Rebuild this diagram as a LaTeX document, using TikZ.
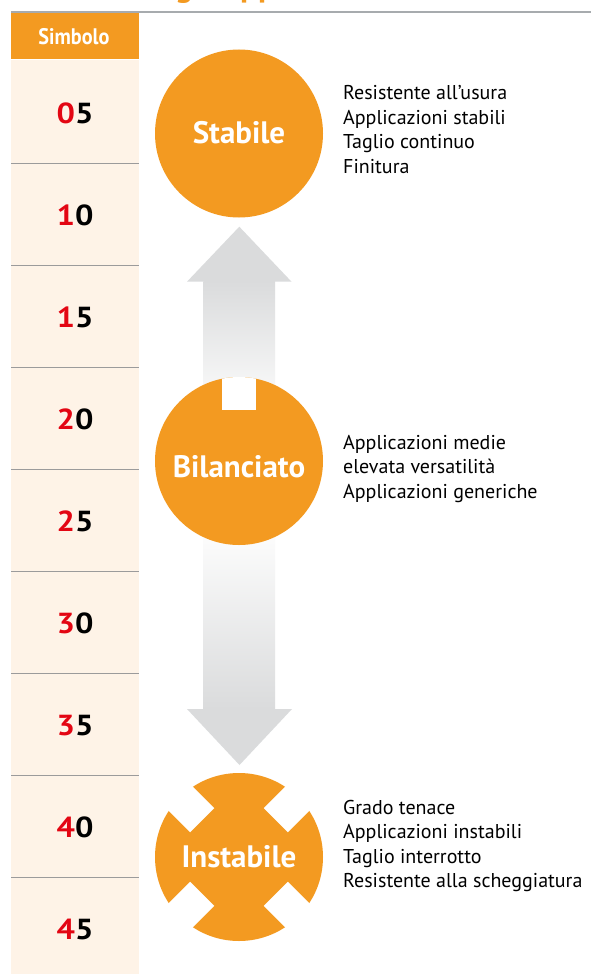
\documentclass[tikz,border=0pt]{standalone}
\usepackage{fontspec}
\setmainfont{PT Sans}
\definecolor{orng}{HTML}{F39A21}
\definecolor{cream}{HTML}{FEF3E7}
\definecolor{rednum}{HTML}{E30613}
\definecolor{arrowgray}{HTML}{DADBDC}
\definecolor{rowrule}{HTML}{9B9B9B}
\definecolor{topline}{HTML}{A7ABAE}
\tikzset{
  grade/.style={circle, fill=orng, minimum size=168pt, inner sep=0pt},
  gradelabel/.style={anchor=base, text=white, font=\bfseries\fontsize{31}{31}\selectfont, inner sep=0pt},
  numlabel/.style={anchor=base, font=\bfseries\fontsize{29}{29}\selectfont, inner sep=0pt},
  desc/.style={anchor=base west, font=\fontsize{20}{20}\selectfont, inner sep=0pt},
  titlefrag/.style={anchor=base west, text=orng, font=\bfseries\fontsize{33}{33}\selectfont, inner sep=0pt}
}
\begin{document}
\begin{tikzpicture}[x=1pt,y=-1pt]
\useasboundingbox (0,0) rectangle (591,974);
\fill[white] (0,0) rectangle (591,974);
% cut-off title
\begin{scope}
  \clip (0,0) rectangle (591,3.5);
  \node[titlefrag] (tg) at (175,-3.5) {g};
  \node[titlefrag] (tpp) at (240,-3.5) {pp};
\end{scope}
\draw[topline, line width=1.5pt] (11,12) -- (591,12);
% left column
\fill[cream] (11,60) rectangle (139,974);
\fill[orng] (11,12.75) rectangle (139,59.5);
\node[text=white, font=\bfseries\fontsize{22.5}{22.5}\selectfont, anchor=base, inner sep=0pt] (head) at (74,44.3) {\scalebox{0.9}[1]{Simbolo}};
\foreach \k in {1,...,8} {
  \draw[rowrule, line width=1pt] (11,{61+102*\k}) -- (139,{61+102*\k});
}
\foreach \k/\a/\b in {0/0/5,1/1/0,2/1/5,3/2/0,4/2/5,5/3/0,6/3/5,7/4/0,8/4/5} {
  \node[numlabel] (num\k) at (75,{123.3+102*\k}) {\scalebox{1.12}[1]{\textcolor{rednum}{\a}\b}};
}
% up arrow
\shade[top color=arrowgray, bottom color=white] (203.3,281) rectangle (275,420);
\fill[arrowgray] (239.3,226.7) -- (291.5,281.7) -- (187,281.7) -- cycle;
% down arrow
\shade[top color=white, bottom color=arrowgray] (203.3,520) rectangle (275,709.5);
\fill[arrowgray] (187,709) -- (292,709) -- (239.5,765) -- cycle;
% circles
\node[grade] (stab) at (239,133.5) {};
\node[grade] (bil) at (239,461) {};
\begin{scope}
  \clip (239,461) circle (84);
  \fill[white] (222,370) rectangle (256,410);
\end{scope}
\node[grade] (inst) at (239,857) {};
\foreach \ang in {45,135,225,315} {
  \begin{scope}[shift={(239,857)}, rotate=\ang]
    \fill[white] (-17,52) rectangle (17,100);
  \end{scope}
}
\node[gradelabel] (lstab) at (239,143.5) {Stabile};
\node[gradelabel] (lbil) at (239,477) {Bilanciato};
\node[gradelabel] (linst) at (239,867) {Instabile};
% descriptions
\node[desc] (s1) at (343,99.3) {Resistente all’usura};
\node[desc] (s2) at (343,124) {Applicazioni stabili};
\node[desc] (s3) at (343,148.7) {Taglio continuo};
\node[desc] (s4) at (343,173.3) {Finitura};
\node[desc] (b1) at (343,449.3) {Applicazioni medie};
\node[desc] (b2) at (343,473.7) {elevata versatilità};
\node[desc] (b3) at (343,498.3) {Applicazioni generiche};
\node[desc] (i1) at (343,814) {Grado tenace};
\node[desc] (i2) at (343,838.5) {Applicazioni instabili};
\node[desc] (i3) at (343,863) {Taglio interrotto};
\node[desc] (i4) at (343,887.7) {Resistente alla scheggiatura};
\end{tikzpicture}
\end{document}
